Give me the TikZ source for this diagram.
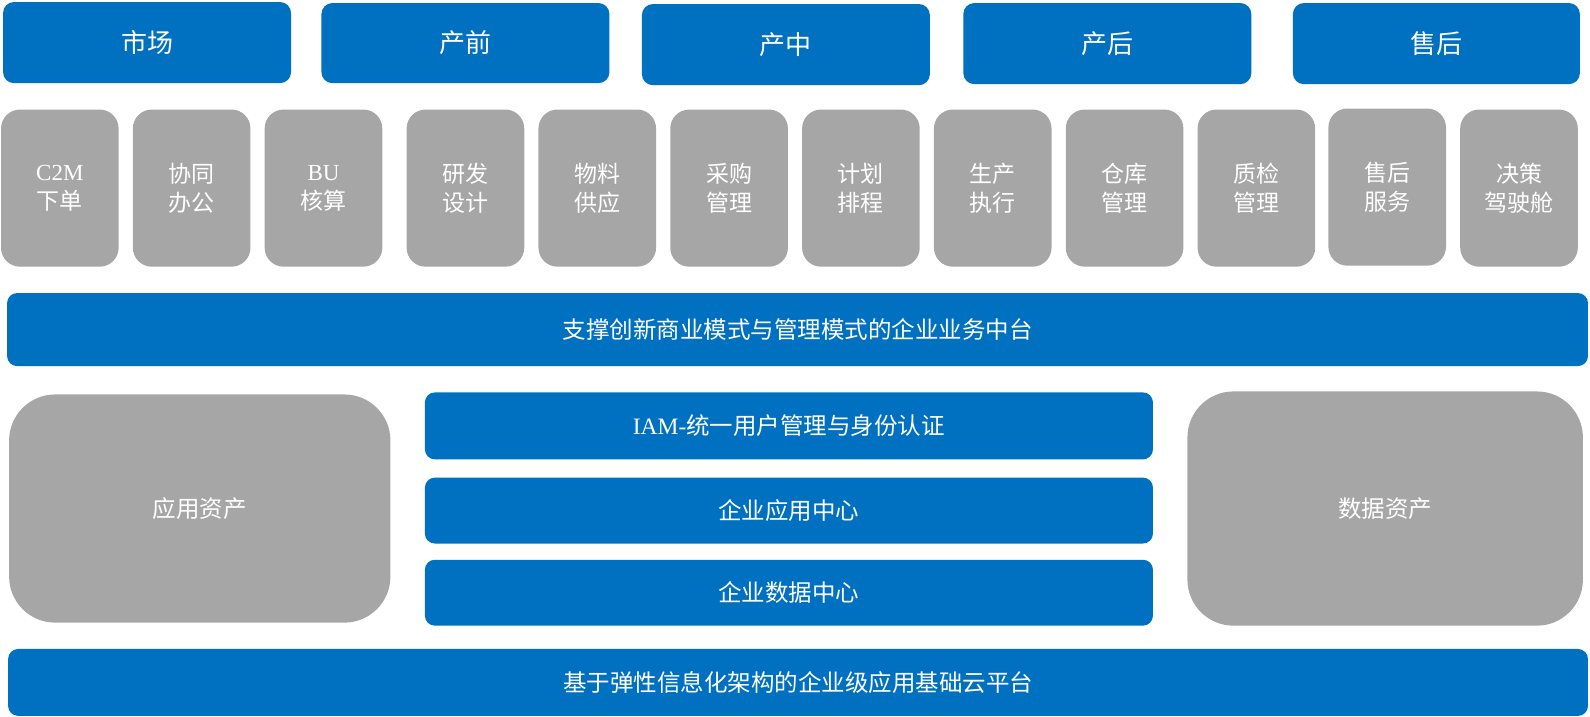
\documentclass[tikz,border=0pt]{standalone}
\usepackage{fontspec}
\setmainfont{Noto Sans CJK SC}
\newfontfamily\latinf{Liberation Serif}
\usetikzlibrary{fit}
\definecolor{bblue}{HTML}{0070C0}
\definecolor{bgray}{HTML}{A6A6A6}
\begin{document}
\begin{tikzpicture}[x=1.01403pt,y=-1.01403pt,
  hlbl/.style={text=white,inner sep=0pt,font=\fontsize{26}{30}\selectfont},
  glbl/.style={text=white,inner sep=0pt,align=center,font=\fontsize{23}{29}\selectfont},
  blbl/.style={text=white,inner sep=0pt,font=\fontsize{23.5}{28}\selectfont},
  hdr/.style={fill=bblue,rounded corners=11pt,inner sep=0pt,label={[hlbl]center:#1}},
  gbox/.style={fill=bgray,rounded corners=19pt,inner sep=0pt,label={[glbl]center:#1}},
  bar/.style={fill=bblue,rounded corners=10pt,inner sep=0pt,label={[blbl]center:#1}},
  asset/.style={fill=bgray,rounded corners=46pt,inner sep=0pt,label={[blbl]center:#1}}]
\useasboundingbox (0,0) rectangle (1568,707.07);
% headers
\node[hdr=市场,fit={(3,2) (287,82)}] (h1) {};
\node[hdr=产前,fit={(317,3) (601,82)}] (h2) {};
\node[hdr=产中,fit={(633,4) (917,84)}] (h3) {};
\node[hdr=产后,fit={(950,3) (1234,83)}] (h4) {};
\node[hdr=售后,fit={(1275,3) (1558,83)}] (h5) {};
% gray modules
\node[gbox={{\latinf C2M}\\下单},fit={(1,108) (117,263)}] (g1) {};
\node[gbox={协同\\办公},fit={(131,108) (247,263)}] (g2) {};
\node[gbox={{\latinf BU}\\核算},fit={(261,108) (377,263)}] (g3) {};
\node[gbox={研发\\设计},fit={(401,108) (517,263)}] (g4) {};
\node[gbox={物料\\供应},fit={(531,108) (647,263)}] (g5) {};
\node[gbox={采购\\管理},fit={(661,108) (777,263)}] (g6) {};
\node[gbox={计划\\排程},fit={(791,108) (907,263)}] (g7) {};
\node[gbox={生产\\执行},fit={(921,108) (1037,263)}] (g8) {};
\node[gbox={仓库\\管理},fit={(1051,108) (1167,263)}] (g9) {};
\node[gbox={质检\\管理},fit={(1181,108) (1297,263)}] (g10) {};
\node[gbox={售后\\服务},fit={(1310,107) (1426,262)}] (g11) {};
\node[gbox={决策\\驾驶舱},fit={(1440,108) (1556,263)}] (g12) {};
% business middle platform
\node[bar=支撑创新商业模式与管理模式的企业业务中台,fit={(7,289) (1566,361)}] (biz) {};
% assets
\node[asset=应用资产,fit={(9,389) (385,614)}] (app) {};
\node[asset=数据资产,fit={(1171,386) (1561,617)}] (data) {};
% center bars
\node[bar={{\latinf IAM-}统一用户管理与身份认证},fit={(419,387) (1137,453)}] (iam) {};
\node[bar=企业应用中心,fit={(419,471) (1137,536)}] (eac) {};
\node[bar=企业数据中心,fit={(419,552) (1137,617)}] (edc) {};
% base
\node[bar=基于弹性信息化架构的企业级应用基础云平台,fit={(8,640) (1566,706)}] (base) {};
\end{tikzpicture}
\end{document}
